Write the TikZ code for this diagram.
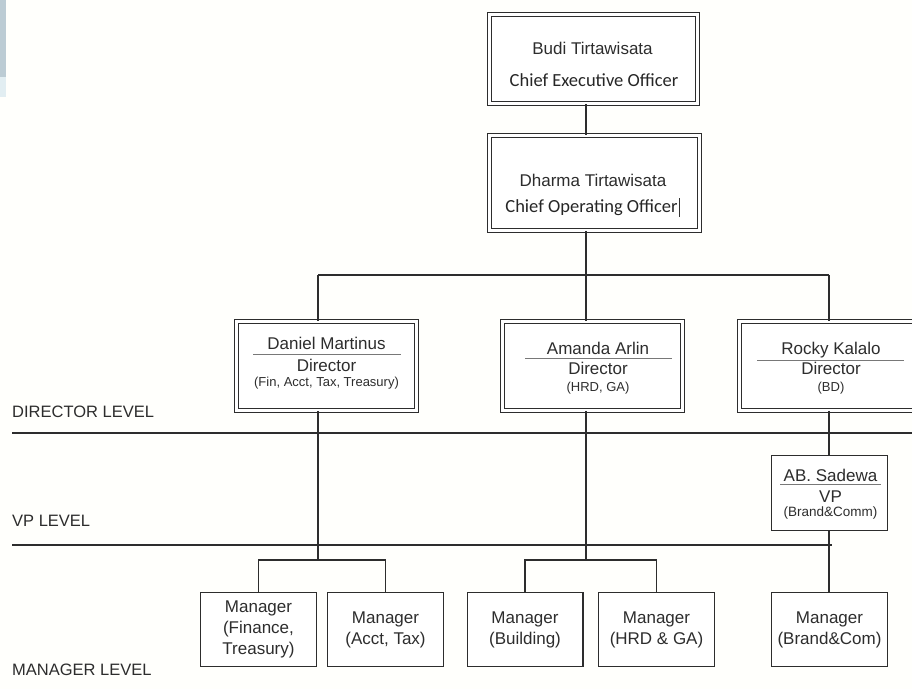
\documentclass[tikz,border=0pt]{standalone}
\usepackage{fontspec}
\setmainfont{Liberation Sans}
\newfontfamily\titlefont{Carlito}
\usetikzlibrary{positioning,calc}
\definecolor{ink}{RGB}{45,45,45}
\definecolor{rulegray}{RGB}{120,120,120}
\definecolor{paper}{RGB}{255,255,252}
\definecolor{edge}{RGB}{188,204,212}
\definecolor{edgelight}{RGB}{226,238,242}

\begin{document}
\begin{tikzpicture}[
    x=1pt, y=-1pt,
    dbox/.style={draw=ink, line width=1.1pt, double=white, double distance=3pt, fill=white, inner sep=0pt},
    sbox/.style={draw=ink, line width=1.4pt, fill=white, inner sep=0pt, minimum width=115.6pt, minimum height=73.6pt, align=center, text=ink, font=\fontsize{17}{21}\selectfont},
    txt/.style={anchor=base, inner sep=0pt, text=ink, font=\fontsize{17}{20}\selectfont},
    small/.style={anchor=base, inner sep=0pt, text=ink, font=\fontsize{13}{15}\selectfont},
    chief/.style={anchor=base, inner sep=0pt, text=black!85, font=\titlefont\fontsize{18.5}{22}\selectfont},
    sepline/.style={draw=rulegray, line width=0.8pt},
    link/.style={draw=ink, line width=1.5pt},
    levelline/.style={draw=ink, line width=1.8pt},
    level/.style={anchor=base west, inner sep=0pt, text=ink, font=\fontsize{16.5}{19}\selectfont}
]

\useasboundingbox[fill=paper] (0,0) rectangle (912,689);

% screen edge
\fill[edge] (0,0) rectangle (6,77);
\fill[edgelight] (0,77) rectangle (6,97);

% Guide coordinates
\coordinate (spine) at (586,0);
\coordinate (dline) at (318,0);
\coordinate (rline) at (829,0);
\coordinate (bus) at (0,275);
\coordinate (split) at (0,560);

% Level lines
\coordinate (dirleft) at (12,433);
\coordinate (dirright) at (912,433);
\coordinate (vpleft) at (12,545);
\coordinate (vpright) at (832,545);
\draw[levelline] (dirleft) -- (dirright);
\draw[levelline] (vpleft) -- (vpright);

\node[level] (dirlabel) at (12,417) {DIRECTOR LEVEL};
\node[level] (vplabel) at (12,526) {VP LEVEL};
\node[level] (mgrlabel) at (12,675) {MANAGER LEVEL};

% Top management
\node[dbox, minimum width=207.8pt, minimum height=88.8pt] (ceo) at (593.5,59) {};
\node[txt] (ceoname) at ($(ceo.north)+(-1,40.4)$) {Budi Tirtawisata};
\node[chief] (ceotitle) at ($(ceo.north)+(0.5,72.4)$) {Chief Executive Officer};

\node[dbox, minimum width=209.8pt, minimum height=94.8pt] (coo) at (594.5,183) {};
\node[txt] (cooname) at ($(coo.north)+(-1.5,51.4)$) {Dharma Tirtawisata};
\node[chief] (cootitle) at ($(coo.north)+(-3,77.4)$) {Chief Operating Officer};
\draw[black!80, line width=0.9pt] ($(cootitle.base east)+(1.5,-14)$) -- ($(cootitle.base east)+(1.5,5)$);

\draw[link] (ceo.south -| spine) -- (coo.north -| spine);
\draw[link] (coo.south -| spine) -- (spine |- bus);

% Directors
\node[dbox, minimum width=179.8pt, minimum height=88.8pt] (daniel) at (326.5,366) {};
\node[txt] (danielname) at ($(daniel.north)+(0,28.4)$) {Daniel Martinus};
\draw[sepline] ($(daniel.north)+(-73.5,33.4)$) -- ($(daniel.north)+(74.5,33.4)$);
\node[txt] (danielrole) at ($(daniel.north)+(0,50.4)$) {Director};
\node[small] (danielarea) at ($(daniel.north)+(0,65.4)$) {(Fin, Acct, Tax, Treasury)};

\node[dbox, minimum width=179.8pt, minimum height=88.8pt] (amanda) at (592.5,366) {};
\node[txt] (amandaname) at ($(amanda.north)+(5.5,33.4)$) {Amanda Arlin};
\draw[sepline] ($(amanda.north)+(-67.5,37.4)$) -- ($(amanda.north)+(79.5,37.4)$);
\node[txt] (amandarole) at ($(amanda.north)+(5.5,53.4)$) {Director};
\node[small] (amandaarea) at ($(amanda.north)+(5.5,70.4)$) {(HRD, GA)};

\node[dbox, minimum width=181.8pt, minimum height=88.8pt] (rocky) at (830.5,366) {};
\node[txt] (rockyname) at ($(rocky.north)+(0.5,33.4)$) {Rocky Kalalo};
\draw[sepline] ($(rocky.north)+(-73.5,39.4)$) -- ($(rocky.north)+(73.5,39.4)$);
\node[txt] (rockyrole) at ($(rocky.north)+(0.5,53.4)$) {Director};
\node[small] (rockyarea) at ($(rocky.north)+(0.5,70.4)$) {(BD)};

\draw[link] (dline |- bus) -- (rline |- bus);
\draw[link] (dline |- bus) -- (daniel.north -| dline);
\draw[link] (spine |- bus) -- (amanda.north -| spine);
\draw[link] (rline |- bus) -- (rocky.north -| rline);

% VP
\node[sbox, minimum height=74.6pt] (vp) at (829.5,493) {};
\node[txt] (vpname) at ($(vp.north)+(1,26.3)$) {AB. Sadewa};
\draw[sepline] ($(vp.north)+(-49.5,29.3)$) -- ($(vp.north)+(51.5,29.3)$);
\node[txt] (vprole) at ($(vp.north)+(1,47.3)$) {VP};
\node[small, font=\fontsize{13.5}{15}\selectfont] (vparea) at ($(vp.north)+(1,61.3)$) {(Brand\&Comm)};

\draw[link] (rocky.south -| rline) -- (vp.north -| rline);

% Managers
\node[sbox] (fin) at (258.5,629.5) {Manager\\(Finance,\\Treasury)};
\node[sbox] (acct) at (385.5,629.5) {Manager\\(Acct, Tax)};
\node[sbox] (bldg) at (525,629.5) {Manager\\(Building)};
\node[sbox] (hrd) at (656.5,629.5) {Manager\\(HRD \& GA)};
\node[sbox] (brand) at (829.5,629.5) {Manager\\(Brand\&Com)};

\draw[link] (daniel.south -| dline) -- (dline |- split);
\draw[link] (fin.north) -- (fin.north |- split) -- (acct.north |- split) -- (acct.north);
\draw[link] (amanda.south -| spine) -- (spine |- split);
\draw[link] (bldg.north) -- (bldg.north |- split) -- (hrd.north |- split) -- (hrd.north);
\draw[link] (vp.south -| rline) -- (brand.north -| rline);

\end{tikzpicture}
\end{document}
